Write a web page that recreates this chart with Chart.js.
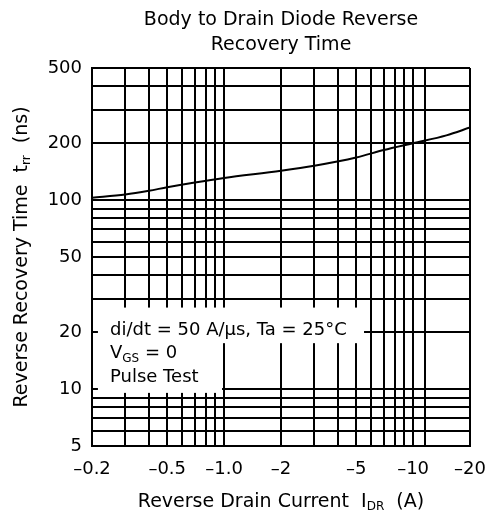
<!DOCTYPE html>
<html><head><meta charset="utf-8">
<script src="https://cdn.jsdelivr.net/npm/chart.js@4"></script>
<style>html,body{margin:0;padding:0;background:#fff;}</style>
</head><body>
<canvas id="c" width="489" height="518"></canvas>
<script>
// ---- data ----
const titleLines = ['Body to Drain Diode Reverse', 'Recovery Time'];
const currentA = [0.2, 0.3, 0.4, 0.5, 0.7, 1, 2, 3, 5, 7, 10, 15, 20];
const trrNs = [103, 107, 112, 117, 124, 131, 143, 152, 168, 184, 200, 220, 242];
const xGridValues = [0.2, 0.3, 0.4, 0.5, 0.6, 0.7, 0.8, 0.9, 1, 2, 3, 4, 5, 6, 7, 8, 9, 10, 11.6, 20];
const xTickValues = [0.2, 0.5, 1, 2, 5, 10, 20];
const xTickLabels = ['\u20130.2', '\u20130.5', '\u20131.0', '\u20132', '\u20135', '\u201310', '\u201320'];
const yGridValues = [5, 6, 7, 8, 9, 10, 20, 30, 40, 50, 60, 70, 80, 90, 100, 200, 300, 400, 500];
const yTickValues = [5, 10, 20, 50, 100, 200, 500];
const yTickLabels = ['5', '10', '20', '50', '100', '200', '500'];
const xTitleParts = [{t: 'Reverse Drain Current  I'}, {t: 'DR', sub: true}, {t: '  (A)'}];
const yTitleParts = [{t: 'Reverse Recovery Time  t'}, {t: 'rr', sub: true}, {t: '  (ns)'}];
const noteLines = [
  [{t: 'di/dt = 50 A/\u03bcs, Ta = 25\u00b0C'}],
  [{t: 'V'}, {t: 'GS', sub: true}, {t: ' = 0'}],
  [{t: 'Pulse Test'}]
];

const FONT = "'DejaVu Sans', sans-serif";

function drawRich(ctx, parts, x, y, align, size, subSize) {
  let w = 0;
  parts.forEach(p => {
    ctx.font = (p.sub ? subSize : size) + 'px ' + FONT;
    p.w = ctx.measureText(p.t).width; w += p.w;
  });
  let cx = align === 'center' ? x - w / 2 : x;
  ctx.textAlign = 'left'; ctx.textBaseline = 'middle'; ctx.fillStyle = '#000';
  parts.forEach(p => {
    ctx.font = (p.sub ? subSize : size) + 'px ' + FONT;
    ctx.fillText(p.t, cx, y + (p.sub ? 5 : 0));
    cx += p.w;
  });
}

const decor = {
  id: 'decor',
  beforeDatasetsDraw(chart) {
    const ctx = chart.ctx, xs = chart.scales.x, ys = chart.scales.y;
    ctx.save();
    ctx.fillStyle = '#fff';
    // white box behind the note text (hides grid lines)
    const l = xs.getPixelForValue(0.215);
    const r1 = xs.getPixelForValue(5.5);
    const r2 = xs.getPixelForValue(0.975);
    const t1 = ys.getPixelForValue(27);
    const b1 = ys.getPixelForValue(17.5);
    const b2 = ys.getPixelForValue(9.55);
    ctx.fillRect(l, t1, r1 - l, b1 - t1);
    ctx.fillRect(l, b1 - 1, r2 - l, b2 - b1 + 1);
    const y0 = ys.getPixelForValue(20) - 2;
    noteLines.forEach((parts, i) => drawRich(ctx, parts, xs.getPixelForValue(0.2) + 18, y0 + i * 23.5, 'left', 18, 12));
    ctx.restore();
  },
  afterDraw(chart) {
    const ctx = chart.ctx, a = chart.chartArea;
    ctx.save();
    drawRich(ctx, xTitleParts, (a.left + a.right) / 2, 502, 'center', 19, 12);
    ctx.translate(22, (a.top + a.bottom) / 2);
    ctx.rotate(-Math.PI / 2);
    drawRich(ctx, yTitleParts, 0, 0, 'center', 19, 12);
    ctx.restore();
  }
};

new Chart(document.getElementById('c'), {
  type: 'line',
  data: {
    datasets: [{
      data: currentA.map((x, i) => ({x: x, y: trrNs[i]})),
      borderColor: '#000', borderWidth: 2, pointRadius: 0,
      cubicInterpolationMode: 'monotone', fill: false
    }]
  },
  options: {
    responsive: false, animation: false, devicePixelRatio: 1,
    layout: {padding: {left: 0, right: 19, top: 0, bottom: 0}},
    plugins: {
      legend: {display: false}, tooltip: {enabled: false},
      title: {
        display: true, text: titleLines, fullSize: false, color: '#000',
        font: {family: FONT, size: 19, weight: 'normal', lineHeight: '25px'},
        padding: {top: 7.5, bottom: 10.5}
      }
    },
    scales: {
      x: {
        type: 'logarithmic', min: 0.2, max: 20,
        afterBuildTicks: s => { s.ticks = xGridValues.map(v => ({value: v})); },
        afterFit: s => { s.height = 72; s.paddingLeft = 0; s.paddingRight = 0; },
        grid: {color: '#000', lineWidth: 2, drawTicks: false},
        border: {color: '#000', width: 2},
        ticks: {
          autoSkip: false, maxRotation: 0, padding: 13, color: '#000',
          font: {family: FONT, size: 18},
          callback: v => { const i = xTickValues.indexOf(v); return i >= 0 ? xTickLabels[i] : ''; }
        }
      },
      y: {
        type: 'logarithmic', min: 5, max: 500,
        afterBuildTicks: s => { s.ticks = yGridValues.map(v => ({value: v})); },
        afterFit: s => { s.width = 92; s.paddingTop = 0; s.paddingBottom = 0; },
        grid: {color: '#000', lineWidth: 2, drawTicks: false},
        border: {color: '#000', width: 2},
        ticks: {
          autoSkip: false, padding: 10, color: '#000',
          font: {family: FONT, size: 18},
          callback: v => { const i = yTickValues.indexOf(v); return i >= 0 ? yTickLabels[i] : ''; }
        }
      }
    }
  },
  plugins: [decor]
});
</script>
</body></html>
